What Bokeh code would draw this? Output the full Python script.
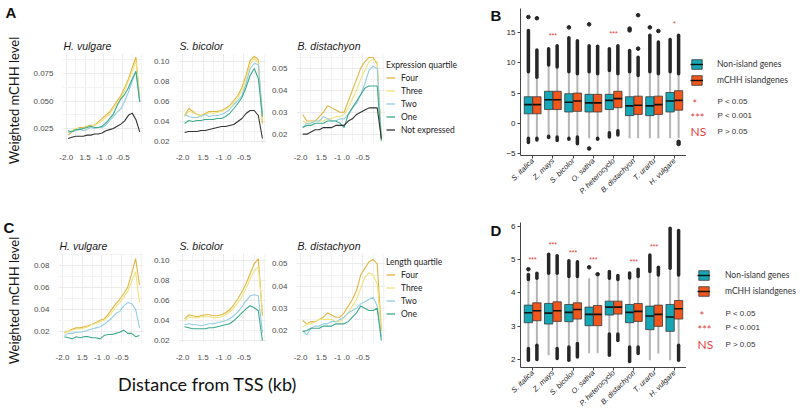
import math
from bokeh.plotting import figure
from bokeh.layouts import row, column
from bokeh.models import ColumnDataSource, FixedTicker, Label, Legend, LegendItem, Range1d
from bokeh.transform import dodge
from bokeh.core.properties import value
from bokeh.embed import file_html
from bokeh.resources import INLINE

NAN = float("nan")

# ---------------- line panels (A, C) ----------------
DIST_X = [-1.95, -1.85, -1.75, -1.65, -1.55, -1.45, -1.35, -1.25, -1.15, -1.05,
          -0.95, -0.85, -0.75, -0.65, -0.55, -0.45, -0.35, -0.25, -0.15, -0.05]
X_TICKS = [-2.0, -1.5, -1.0, -0.5]
X_TICK_LABELS = ["-2.0", "1.5", "-1 .0", "-0.5"]
EXPR_LEVELS = ["Four", "Three", "Two", "One", "Not expressed"]
LEN_LEVELS = ["Four", "Three", "Two", "One"]
LEVEL_COLORS = ["#E2B43F", "#EEE37C", "#93CDE2", "#3DAA8C", "#333333"]
PANEL_SPECIES = ["H. vulgare", "S. bicolor", "B. distachyon"]
Y_LABEL = "Weighted mCHH level"
X_LABEL = "Distance from TSS (kb)"

# A: expression quartiles
A_HV_FOUR = [0.019, 0.022, 0.024, 0.026, 0.026, 0.027, 0.028, 0.028, 0.031, 0.034, 0.037, 0.040, 0.045, 0.050, 0.055, 0.062, 0.070, 0.080, 0.090, 0.050]
A_HV_THREE = [0.021, 0.023, 0.025, 0.025, 0.025, 0.026, 0.027, 0.028, 0.030, 0.032, 0.035, 0.038, 0.043, 0.048, 0.053, 0.060, 0.068, 0.077, 0.086, 0.054]
A_HV_TWO = [0.022, 0.022, 0.023, 0.025, 0.023, 0.024, 0.026, 0.025, 0.026, 0.026, 0.028, 0.032, 0.036, 0.040, 0.043, 0.050, 0.058, 0.068, 0.077, 0.050]
A_HV_ONE = [0.023, 0.022, 0.024, 0.024, 0.025, 0.026, 0.027, 0.026, 0.026, 0.027, 0.030, 0.034, 0.038, 0.046, 0.052, 0.056, 0.062, 0.070, 0.077, 0.049]
A_HV_NOT = [0.016, 0.017, 0.018, 0.018, 0.018, 0.019, 0.019, 0.020, 0.020, 0.021, 0.023, 0.024, 0.025, 0.027, 0.029, 0.032, 0.037, 0.039, 0.033, 0.022]

A_SB_FOUR = [0.046, 0.053, 0.050, 0.047, 0.046, 0.048, 0.050, 0.050, 0.050, 0.051, 0.053, 0.056, 0.061, 0.066, 0.074, 0.086, 0.101, 0.105, 0.102, 0.038]
A_SB_THREE = [0.045, 0.050, 0.049, 0.047, 0.046, 0.047, 0.049, 0.048, 0.049, 0.050, 0.052, 0.055, 0.059, 0.064, 0.071, 0.083, 0.097, 0.103, 0.099, 0.042]
A_SB_TWO = [0.047, 0.045, 0.044, 0.044, 0.045, 0.047, 0.045, 0.046, 0.046, 0.047, 0.049, 0.052, 0.057, 0.061, 0.066, 0.078, 0.093, 0.098, 0.097, 0.048]
A_SB_ONE = [0.038, 0.041, 0.040, 0.041, 0.041, 0.042, 0.042, 0.042, 0.043, 0.043, 0.045, 0.048, 0.053, 0.058, 0.064, 0.074, 0.086, 0.093, 0.083, 0.045]
A_SB_NOT = [0.029, 0.030, 0.030, 0.030, 0.031, 0.031, 0.032, 0.033, 0.034, 0.035, 0.035, 0.036, 0.037, 0.040, 0.043, 0.048, 0.051, 0.051, 0.046, 0.023]

A_BD_FOUR = [0.029, 0.026, 0.026, 0.026, 0.028, 0.030, 0.033, 0.032, 0.031, 0.030, 0.030, 0.035, 0.040, 0.045, 0.050, 0.053, 0.055, 0.055, 0.052, 0.017]
A_BD_THREE = [0.026, 0.025, 0.025, 0.026, 0.026, 0.026, 0.027, 0.027, 0.028, 0.028, 0.029, 0.032, 0.036, 0.040, 0.045, 0.049, 0.053, 0.054, 0.053, 0.018]
A_BD_TWO = [0.023, 0.025, 0.025, 0.026, 0.026, 0.028, 0.027, 0.026, 0.026, 0.027, 0.027, 0.029, 0.032, 0.034, 0.038, 0.043, 0.049, 0.051, 0.050, 0.018]
A_BD_ONE = [0.023, 0.024, 0.024, 0.025, 0.025, 0.025, 0.026, 0.026, 0.026, 0.025, 0.023, 0.029, 0.032, 0.035, 0.038, 0.041, 0.042, 0.042, 0.042, 0.017]
A_BD_NOT = [0.020, 0.020, 0.021, 0.022, 0.022, 0.023, 0.023, 0.023, 0.024, 0.024, 0.024, 0.026, 0.027, 0.029, 0.030, 0.031, 0.032, 0.032, 0.032, 0.018]

# C: length quartiles
C_HV_FOUR = [0.019, 0.020, 0.022, 0.023, 0.023, 0.024, 0.025, 0.026, 0.028, 0.030, 0.031, 0.035, 0.040, 0.045, 0.049, 0.054, 0.060, 0.072, 0.086, 0.062]
C_HV_THREE = [0.018, 0.020, 0.021, 0.022, 0.022, 0.023, 0.024, 0.026, 0.027, 0.029, 0.030, 0.033, 0.037, 0.042, 0.046, 0.051, 0.056, 0.065, 0.074, 0.046]
C_HV_TWO = [0.016, 0.018, 0.018, 0.019, 0.019, 0.020, 0.021, 0.022, 0.023, 0.024, 0.026, 0.029, 0.032, 0.036, 0.038, 0.043, 0.046, 0.045, 0.040, 0.023]
C_HV_ONE = [0.015, 0.014, 0.013, 0.015, 0.014, 0.015, 0.015, 0.014, 0.014, 0.013, 0.016, 0.017, 0.017, 0.018, 0.019, 0.021, 0.018, 0.018, 0.015, 0.016]

C_SB_FOUR = [0.042, 0.046, 0.045, 0.044, 0.045, 0.046, 0.046, 0.045, 0.045, 0.046, 0.048, 0.051, 0.056, 0.062, 0.069, 0.077, 0.087, 0.097, 0.102, 0.045]
C_SB_THREE = [0.040, 0.044, 0.043, 0.043, 0.044, 0.044, 0.044, 0.043, 0.043, 0.044, 0.046, 0.049, 0.053, 0.058, 0.064, 0.072, 0.082, 0.090, 0.094, 0.050]
C_SB_TWO = [0.036, 0.037, 0.036, 0.036, 0.035, 0.036, 0.037, 0.037, 0.038, 0.039, 0.040, 0.042, 0.045, 0.049, 0.054, 0.060, 0.065, 0.066, 0.065, 0.028]
C_SB_ONE = [0.034, 0.033, 0.032, 0.032, 0.032, 0.032, 0.033, 0.033, 0.034, 0.035, 0.036, 0.037, 0.040, 0.044, 0.048, 0.052, 0.055, 0.053, 0.050, 0.020]

C_BD_FOUR = [0.0245, 0.023, 0.024, 0.024, 0.025, 0.026, 0.028, 0.027, 0.026, 0.026, 0.028, 0.031, 0.034, 0.038, 0.045, 0.048, 0.051, 0.052, 0.050, 0.020]
C_BD_THREE = [0.0215, 0.023, 0.023, 0.024, 0.025, 0.025, 0.025, 0.025, 0.024, 0.024, 0.026, 0.028, 0.031, 0.034, 0.039, 0.044, 0.046, 0.045, 0.041, 0.019]
C_BD_TWO = [0.020, 0.018, 0.021, 0.022, 0.022, 0.023, 0.023, 0.024, 0.024, 0.025, 0.026, 0.028, 0.029, 0.030, 0.032, 0.033, 0.034, 0.035, 0.031, 0.017]
C_BD_ONE = [0.0195, 0.020, 0.021, 0.021, 0.021, 0.022, 0.022, 0.022, 0.023, 0.023, 0.023, 0.024, 0.026, 0.028, 0.031, 0.030, 0.029, 0.029, 0.030, 0.0155]

# ---------------- box panels (B, D) ----------------
SPECIES = ["S. italica", "Z. mays", "S. bicolor", "O. sativa",
           "P. heterocyclo", "B. distachyon", "T. urartu", "H. vulgare"]
GROUPS = ["Non-island genes", "mCHH islandgenes"]
GROUP_COLORS = ["#17A6B5", "#F1561D"]

B_NON_Q1 = [1.6, 2.3, 1.9, 1.9, 2.3, 1.3, 1.3, 1.9]
B_NON_MED = [3.1, 3.9, 3.5, 3.4, 3.8, 2.9, 2.9, 3.7]
B_NON_Q3 = [4.4, 5.3, 4.9, 4.8, 4.8, 4.4, 4.4, 5.1]
B_NON_LO = [-2.4, -2.1, -2.4, -2.4, -1.5, -2.4, -2.4, -2.4]
B_NON_HI = [8.5, 9.6, 8.5, 8.5, 8.7, 8.5, 8.5, 8.5]
B_NON_OUT_HI = [15.3, 12.3, 14.1, 12.8, 12.3, 12.0, 14.5, 13.8]
B_NON_OUT_LO = [-3.1, -2.3, -2.6, NAN, -2.2, NAN, NAN, NAN]
B_NON_EXTRA_SP = ["S. italica", "S. bicolor", "O. sativa", "O. sativa", "B. distachyon", "B. distachyon", "T. urartu"]
B_NON_EXTRA_Y = [17.5, 15.8, 16.3, -4.1, 15.6, 15.3, 15.8]

B_ISL_Q1 = [1.6, 2.3, 2.0, 1.9, 2.6, 1.5, 1.5, 2.2]
B_ISL_MED = [3.1, 3.9, 3.7, 3.4, 4.1, 3.0, 3.1, 3.8]
B_ISL_Q3 = [4.4, 5.3, 5.0, 4.8, 5.3, 4.5, 4.5, 5.4]
B_ISL_LO = [-2.4, -2.2, -2.2, -2.4, -1.2, -2.4, -2.4, -2.4]
B_ISL_HI = [7.6, 9.3, 8.2, 8.2, 8.2, 7.9, 8.2, 8.2]
B_ISL_OUT_HI = [12.1, 12.8, 13.6, 12.7, 12.8, 10.9, 13.4, 14.5]
B_ISL_OUT_LO = [-2.7, -2.8, -3.3, -2.6, -1.9, NAN, NAN, NAN]
B_ISL_EXTRA_SP = ["S. italica", "B. distachyon", "B. distachyon", "T. urartu", "H. vulgare", "H. vulgare"]
B_ISL_EXTRA_Y = [17.3, 12.3, 17.8, 15.2, -3.0, -3.35]

B_SIG_TEXT = ["", "***", "", "", "***", "", "", "*"]
B_SIG_Y = [NAN, 14.4, NAN, NAN, 14.8, NAN, NAN, 16.4]

D_NON_Q1 = [3.10, 3.06, 3.13, 3.01, 3.33, 3.10, 2.89, 2.84]
D_NON_MED = [3.40, 3.39, 3.41, 3.35, 3.57, 3.41, 3.30, 3.27]
D_NON_Q3 = [3.63, 3.68, 3.65, 3.57, 3.75, 3.65, 3.60, 3.65]
D_NON_LO = [2.32, 2.12, 2.37, 2.18, 2.76, 2.37, 1.97, 1.97]
D_NON_HI = [4.40, 4.59, 4.49, 4.44, 4.44, 4.45, 4.64, 4.74]
D_NON_OUT_HI = [4.55, 5.16, 4.97, NAN, 4.64, 4.60, 5.14, 5.95]
D_NON_OUT_LO = [1.97, NAN, 1.97, NAN, 2.12, 1.93, NAN, NAN]
D_NON_EXTRA_SP = ["S. italica", "O. sativa"]
D_NON_EXTRA_Y = [4.71, 4.77]

D_ISL_Q1 = [3.16, 3.14, 3.21, 3.01, 3.36, 3.14, 2.99, 3.21]
D_ISL_MED = [3.46, 3.46, 3.50, 3.35, 3.57, 3.44, 3.35, 3.52]
D_ISL_Q3 = [3.70, 3.73, 3.70, 3.62, 3.75, 3.68, 3.63, 3.77]
D_ISL_LO = [2.42, 2.32, 2.47, 2.18, 2.76, 2.37, 2.17, 2.42]
D_ISL_HI = [4.44, 4.59, 4.49, 4.50, 4.40, 4.49, 4.54, 4.54]
D_ISL_OUT_HI = [4.59, 5.12, 4.94, NAN, 4.52, 4.71, 4.77, 5.88]
D_ISL_OUT_LO = [1.99, 2.02, 2.07, NAN, 2.56, 2.17, NAN, 1.97]
D_ISL_EXTRA_SP = ["O. sativa"]
D_ISL_EXTRA_Y = [4.56]

D_SIG_TEXT = ["***", "***", "***", "***", "", "***", "***", ""]
D_SIG_Y = [5.0, 5.45, 5.21, 5.0, NAN, 4.94, 5.41, NAN]

P_SYMBOLS = ["*", "***", "NS"]
P_TEXTS = ["P < 0.05", "P < 0.001", "P > 0.05"]

RED = "#E2403B"
TICK_FONT = "Liberation Sans"
TEXT_FONT = "Lato"


def new_fig(**kw):
    return figure(output_backend="svg", toolbar_location=None, frame_align=False, **kw)


def blank_fig(w, h):
    p = new_fig(width=w, height=h, x_range=Range1d(0, w), y_range=Range1d(0, h),
                min_border_left=0, min_border_right=0, min_border_top=0, min_border_bottom=0)
    p.axis.visible = False
    p.grid.visible = False
    p.outline_line_color = None
    return p


def letter(p, text, x, y):
    p.add_layout(Label(x=x, y=y, text=text, text_font=TICK_FONT, text_font_style="bold",
                       text_font_size="15px", text_baseline="top", text_color="#111111"))


def strip(w, h, letter_txt, letter_x, letter_y, ylab_y=None):
    p = blank_fig(w, h)
    letter(p, letter_txt, letter_x, letter_y)
    if ylab_y is not None:
        p.add_layout(Label(x=13.5, y=ylab_y, text=Y_LABEL, angle=math.pi / 2,
                           text_align="center", text_baseline="middle", text_font=TEXT_FONT,
                           text_font_size="13px", text_color="#111111"))
    return p


def line_panel(width, height, bl, br, bt, bb, title, yr, yticks, yminor, ylabels,
               series, levels):
    p = new_fig(width=width, height=height, x_range=Range1d(-2.1, 0.05), y_range=Range1d(*yr),
                title=title, min_border_left=bl, min_border_right=br, min_border_top=bt,
                min_border_bottom=bb)
    p.outline_line_color = None
    p.title.text_font = TICK_FONT
    p.title.text_font_style = "italic"
    p.title.text_font_size = "10.5px"
    p.title.text_color = "#1a1a1a"
    p.title.align = "left"
    p.title.offset = 1
    p.title.standoff = 4
    p.xaxis.ticker = FixedTicker(ticks=X_TICKS, minor_ticks=[-1.75, -1.25, -0.75, -0.25, 0.0])
    p.xaxis.major_label_overrides = dict(zip(X_TICKS, X_TICK_LABELS))
    p.yaxis.ticker = FixedTicker(ticks=yticks, minor_ticks=yminor)
    p.yaxis.major_label_overrides = dict(zip(yticks, ylabels))
    for ax in (p.xaxis, p.yaxis):
        ax.axis_line_color = None
        ax.major_tick_line_color = None
        ax.minor_tick_line_color = None
        ax.major_label_text_font = TICK_FONT
        ax.major_label_text_font_size = "8px"
        ax.major_label_text_color = "#4D4D4D"
        ax.major_label_standoff = 4
    p.yaxis.major_label_standoff = 3
    p.grid.grid_line_color = "#EBEBEB"
    p.grid.minor_grid_line_color = "#F3F3F3"
    for lev, ys in zip(levels, series):
        col = LEVEL_COLORS[EXPR_LEVELS.index(lev)]
        p.line(DIST_X, ys, line_color=col, line_width=1.1)
    return p


def level_legend_fig(h, levels, title, loc):
    p = blank_fig(95, h)
    items = []
    for lev in levels:
        col = LEVEL_COLORS[EXPR_LEVELS.index(lev)]
        r = p.line(x=[NAN], y=[NAN], line_color=col, line_width=1.3)
        items.append(LegendItem(label=lev, renderers=[r]))
    leg = Legend(items=items, title=title, location=loc)
    leg.border_line_color = None
    leg.background_fill_alpha = 0
    leg.padding = 0
    leg.margin = 0
    leg.spacing = 0
    leg.glyph_width = 9
    leg.glyph_height = 13
    leg.label_height = 13
    leg.label_standoff = 6
    leg.title_standoff = 1
    leg.label_text_font = TEXT_FONT
    leg.label_text_font_size = "8.5px"
    leg.label_text_color = "#222222"
    leg.title_text_font = TEXT_FONT
    leg.title_text_font_size = "8.5px"
    leg.title_text_font_style = "normal"
    leg.title_text_color = "#222222"
    p.add_layout(leg)
    return p


def box_panel(height, bt, bb, yr, yticks, groups_data, sig_text, sig_y):
    p = new_fig(width=184, height=height, x_range=Range1d(-0.6, len(SPECIES) - 0.4),
                y_range=Range1d(*yr), min_border_left=18, min_border_right=0,
                min_border_top=bt, min_border_bottom=bb)
    p.outline_line_color = None
    p.grid.visible = False
    pos = list(range(len(SPECIES)))
    p.xaxis.ticker = FixedTicker(ticks=pos)
    p.xaxis.major_label_overrides = dict(zip(pos, SPECIES))
    p.xaxis.major_label_orientation = math.pi / 4
    p.xaxis.major_label_text_font_style = "italic"
    p.xaxis.major_label_text_font_size = "7.5px"
    p.yaxis.ticker = FixedTicker(ticks=yticks)
    p.yaxis.major_label_text_font_size = "8px"
    for ax in (p.xaxis, p.yaxis):
        ax.axis_line_color = "#444444"
        ax.major_tick_line_color = "#444444"
        ax.major_tick_out = 3
        ax.major_tick_in = 0
        ax.minor_tick_line_color = None
        ax.major_label_text_font = TICK_FONT
        ax.major_label_text_color = "#222222"
        ax.major_label_standoff = 2
    p.xaxis.major_label_standoff = 1
    for (gname, off, color, q1, med, q3, lo, hi, ohi, olo, esp, ey) in groups_data:
        src = ColumnDataSource(dict(pos=pos, q1=q1, med=med, q3=q3, lo=lo, hi=hi, ohi=ohi, olo=olo))
        xd = dodge("pos", off)
        p.segment(x0=xd, x1=xd, y0="lo", y1="hi", source=src, line_color="#B5B5B5", line_width=2)
        p.segment(x0=xd, x1=xd, y0="hi", y1="ohi", source=src, line_color="#262626",
                  line_width=3.5, line_cap="round")
        p.segment(x0=xd, x1=xd, y0="lo", y1="olo", source=src, line_color="#262626",
                  line_width=3.5, line_cap="round")
        p.vbar(x=xd, width=0.41, bottom="q1", top="q3", source=src, fill_color=color,
               line_color="#3A3A3A", line_width=0.8)
        p.segment(x0=dodge("pos", off - 0.205), x1=dodge("pos", off + 0.205), y0="med",
                  y1="med", source=src, line_color="#111111", line_width=1.6)
        esrc = ColumnDataSource(dict(pos=[SPECIES.index(s) for s in esp], y=ey))
        p.scatter(x=xd, y="y", source=esrc, size=3.6, color="#262626")
    ssrc = ColumnDataSource(dict(pos=pos, y=sig_y, t=sig_text))
    p.text(x="pos", y="y", text="t", source=ssrc, text_color=RED, text_font_size="7px",
           text_align="center", text_baseline="middle", text_font=value(TICK_FONT))
    return p


def group_legend_fig(h, loc, standoff, sym_x, txt_x, ys):
    p = blank_fig(114, h)
    items = []
    for gname, col in zip(GROUPS, GROUP_COLORS):
        rb = p.vbar(x=[NAN], width=1, top=[NAN], bottom=[NAN], fill_color=col,
                    line_color="#3A3A3A", line_width=0.8)
        rm = p.segment(x0=[NAN], x1=[NAN], y0=[NAN], y1=[NAN], line_color="#111111",
                       line_width=1.4)
        items.append(LegendItem(label=gname, renderers=[rb, rm]))
    leg = Legend(items=items, location=loc)
    leg.border_line_color = None
    leg.background_fill_alpha = 0
    leg.padding = 0
    leg.margin = 0
    leg.spacing = 4
    leg.glyph_width = 13
    leg.glyph_height = 12
    leg.label_height = 12
    leg.label_standoff = standoff
    leg.label_text_font = TEXT_FONT
    leg.label_text_font_size = "8.5px"
    leg.label_text_color = "#333333"
    p.add_layout(leg)
    sizes = ["11px", "11px", "12px"]
    for sym, txt, yy, fs in zip(P_SYMBOLS, P_TEXTS, ys, sizes):
        star = "*" in sym
        p.add_layout(Label(x=sym_x + (2 if sym == "*" else 0), y=yy - (2 if star else 0),
                           text=sym, text_font=TEXT_FONT, text_font_size=fs, text_color=RED,
                           text_baseline="middle"))
        p.add_layout(Label(x=txt_x, y=yy, text=txt, text_font=TICK_FONT,
                           text_font_size="8px", text_color="#333333", text_baseline="middle"))
    return p


# ---- top row (A): y 0..208 ----
sa = strip(30, 208, "A", 5, 205, 108)
a1 = line_panel(120, 208, 18, 7, 53, 66, PANEL_SPECIES[0], (0.0123, 0.0932),
                [0.025, 0.05, 0.075], [0.0375, 0.0625, 0.0875], ["0.025", "0.050", "0.075"],
                [A_HV_FOUR, A_HV_THREE, A_HV_TWO, A_HV_ONE, A_HV_NOT], EXPR_LEVELS)
a2 = line_panel(118, 208, 21, 2, 53, 66, PANEL_SPECIES[1], (0.019, 0.108),
                [0.02, 0.04, 0.06, 0.08, 0.10], [0.03, 0.05, 0.07, 0.09],
                ["0.02", "0.04", "0.06", "0.08", "0.10"],
                [A_SB_FOUR, A_SB_THREE, A_SB_TWO, A_SB_ONE, A_SB_NOT], EXPR_LEVELS)
a3 = line_panel(117, 208, 22, 0, 53, 66, PANEL_SPECIES[2], (0.0162, 0.0568),
                [0.02, 0.03, 0.04, 0.05], [0.025, 0.035, 0.045, 0.055],
                ["0.02", "0.03", "0.04", "0.05"],
                [A_BD_FOUR, A_BD_THREE, A_BD_TWO, A_BD_ONE, A_BD_NOT], EXPR_LEVELS)
la = level_legend_fig(208, EXPR_LEVELS, "Expression quartile", (1, 72))

# ---- bottom row (C): y 208..365 ----
sc = strip(30, 157, "C", 3, 147, 65)
c1 = line_panel(120, 157, 18, 7, 45, 23, PANEL_SPECIES[0], (0.0097, 0.0906),
                [0.02, 0.04, 0.06, 0.08], [0.01, 0.03, 0.05, 0.07, 0.09],
                ["0.02", "0.04", "0.06", "0.08"],
                [C_HV_FOUR, C_HV_THREE, C_HV_TWO, C_HV_ONE], LEN_LEVELS)
c2 = line_panel(118, 157, 21, 2, 45, 23, PANEL_SPECIES[1], (0.0183, 0.1073),
                [0.02, 0.04, 0.06, 0.08, 0.10], [0.03, 0.05, 0.07, 0.09],
                ["0.02", "0.04", "0.06", "0.08", "0.10"],
                [C_SB_FOUR, C_SB_THREE, C_SB_TWO, C_SB_ONE], LEN_LEVELS)
c3 = line_panel(117, 157, 22, 0, 45, 23, PANEL_SPECIES[2], (0.0146, 0.0547),
                [0.02, 0.03, 0.04, 0.05], [0.025, 0.035, 0.045],
                ["0.02", "0.03", "0.04", "0.05"],
                [C_BD_FOUR, C_BD_THREE, C_BD_TWO, C_BD_ONE], LEN_LEVELS)
lc = level_legend_fig(157, LEN_LEVELS, "Length quartile", (1, 45))

# ---- x label strip: y 365..413 ----
xl = blank_fig(480, 48)
xl.add_layout(Label(x=207, y=30, text=X_LABEL, text_align="center",
                    text_baseline="middle", text_font=TEXT_FONT, text_font_size="18px",
                    text_color="#111111"))

# ---- B and D ----
B_GROUPS = [
    (GROUPS[0], -0.21, GROUP_COLORS[0], B_NON_Q1, B_NON_MED, B_NON_Q3, B_NON_LO, B_NON_HI,
     B_NON_OUT_HI, B_NON_OUT_LO, B_NON_EXTRA_SP, B_NON_EXTRA_Y),
    (GROUPS[1], 0.21, GROUP_COLORS[1], B_ISL_Q1, B_ISL_MED, B_ISL_Q3, B_ISL_LO, B_ISL_HI,
     B_ISL_OUT_HI, B_ISL_OUT_LO, B_ISL_EXTRA_SP, B_ISL_EXTRA_Y),
]
D_GROUPS = [
    (GROUPS[0], -0.21, GROUP_COLORS[0], D_NON_Q1, D_NON_MED, D_NON_Q3, D_NON_LO, D_NON_HI,
     D_NON_OUT_HI, D_NON_OUT_LO, D_NON_EXTRA_SP, D_NON_EXTRA_Y),
    (GROUPS[1], 0.21, GROUP_COLORS[1], D_ISL_Q1, D_ISL_MED, D_ISL_Q3, D_ISL_LO, D_ISL_HI,
     D_ISL_OUT_HI, D_ISL_OUT_LO, D_ISL_EXTRA_SP, D_ISL_EXTRA_Y),
]

sb = strip(22, 208, "B", 10, 202)
pb = box_panel(208, 8, 53, (-5.25, 18.9), [-5, 0, 5, 10, 15], B_GROUPS, B_SIG_TEXT, B_SIG_Y)
lb = group_legend_fig(208, (4, 122), 14, 4, 31, [107, 93, 77])

sd = strip(22, 205, "D", 10, 192)
pd = box_panel(205, 14, 44, (1.75, 6.12), [2, 3, 4, 5, 6], D_GROUPS, D_SIG_TEXT, D_SIG_Y)
ld = group_legend_fig(205, (11, 116), 15, 11, 39, [100, 86, 69])

left = column(row(sa, a1, a2, a3, la), row(sc, c1, c2, c3, lc), xl)
right = column(row(sb, pb, lb), row(sd, pd, ld))
root = row(left, right)

open("out.html", "w").write(file_html(root, INLINE))
